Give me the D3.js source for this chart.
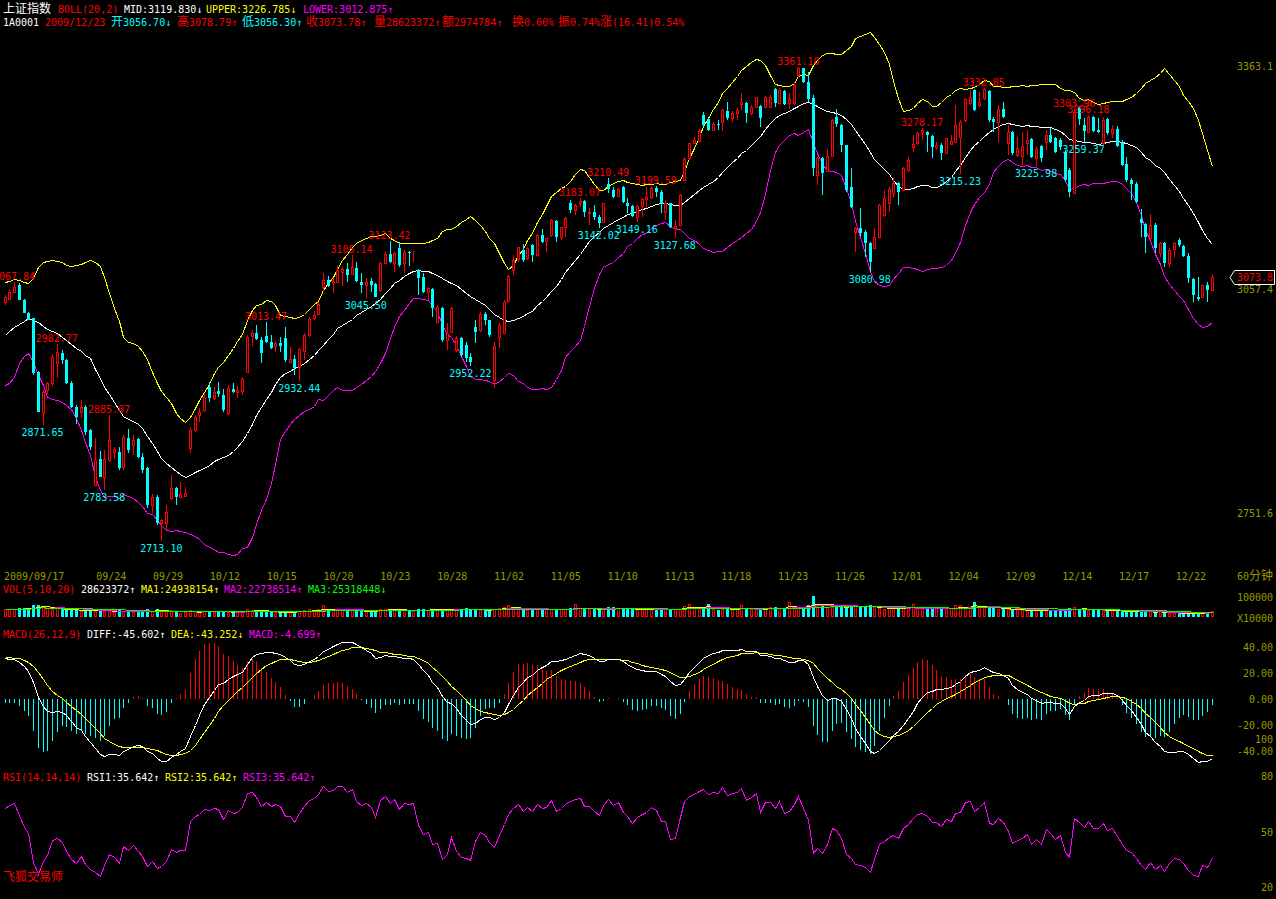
<!DOCTYPE html>
<html><head><meta charset="utf-8">
<script src="https://cdn.jsdelivr.net/npm/d3@7"></script>
<style>html,body{margin:0;padding:0;background:#000;overflow:hidden}svg{display:block}</style>
</head><body><svg id="c" width="1276" height="899"></svg>
<script>
// ---------- DATA ----------
// hourly candles [open, high, low, close]
const ohlc = [
[3040.7,3049.8,3036,3047.5],[3044,3057.6,3043,3054.4],[3054.4,3067.84,3053,3060.3],[3063.5,3066.7,3043,3043.5],
[3043,3044,3025,3025.6],[3025.6,3026,3015,3015.6],[3018,3019,2940,2942.7],[2945,2946,2890,2890.2],
[2888,2920,2871.65,2917.6],[2920,2931,2915,2929],[2929,2969,2925,2965.4],[2956.4,2982.77,2935.9,2971.4],
[2970,2975,2955,2961],[2961,2962,2928,2929],[2929,2932,2895,2897],[2897,2900,2873,2883],
[2890,2906,2882,2897],[2897,2899,2858,2863],[2865,2866,2838,2842],[2790,2854,2788,2824],
[2825,2837,2801,2801],[2801,2838,2783.58,2825],[2824,2885.07,2822,2851.5],[2835.5,2842,2826,2838.7],
[2835.5,2842,2810,2812.7],[2815,2858,2810,2856],[2853.8,2866,2834,2837.8],[2844.6,2858,2831,2851.5],
[2852.8,2854,2827,2828.6],[2828.6,2833,2806,2810.4],[2812.7,2815,2758,2762.6],[2762.6,2778,2752,2774],
[2774,2776,2735,2737.5],[2737.5,2744,2713.1,2742],[2737.5,2762.5,2728,2753.4],[2772,2803.6,2769.4,2785.4],
[2785.4,2787,2762.6,2774],[2773.4,2794.5,2771.7,2777.6],[2775,2787.7,2774,2778.5],[2840,2867.5,2833.3,2865.2],
[2865.2,2885.7,2863,2883.4],[2885.7,2894.8,2876.6,2890.2],[2892.5,2915.3,2890.2,2910.7],[2924.4,2931.3,2904,2908.5],
[2908.5,2924.4,2906.2,2917.6],[2919,2931.3,2910.8,2914.4],[2913,2920.8,2890,2892.5],[2888,2926.7,2885.7,2922.2],
[2921,2929,2915.3,2916.6],[2917.6,2925.4,2908.5,2919.8],[2919,2938.2,2913,2935],[2944,2995,2942.7,2992.8],
[2994.2,3002,2980.6,2998.3],[2997.4,3008.8,2988.3,2989.2],[2988,2992.9,2956.4,2970],[2993.7,3013.47,2983.8,2986],
[2985,2995.2,2976,2977.7],[2980,2987.4,2972.4,2983.8],[2983.8,2992.9,2972.4,2980],[2990.6,3006.6,2958.7,2961],
[2958.6,2979.2,2957.3,2962],[2962,2967.8,2940,2949.6],[2951.8,2976.9,2932.44,2975.5],[2973.6,2997.4,2961,2995],
[2995,3020.2,2992.9,3016.6],[3018,3028,3015.6,3022.5],[3023.9,3040.8,3022.5,3037.6],[3061.3,3079.5,3054.4,3070.4],
[3070,3075.9,3061.3,3062],[3065.8,3072.6,3052,3069],[3068,3089.6,3065.8,3084],[3081.7,3087.7,3062,3085],
[3085,3094,3068,3077],[3078.6,3105.14,3077,3087.7],[3087,3095.4,3068,3069.4],[3068,3079.5,3052,3063.5],
[3063.5,3072.6,3045.5,3068],[3069,3072.6,3054.4,3063.5],[3065,3065.8,3047,3047.5],[3056.7,3095.4,3054.4,3094],
[3094,3109.2,3092.9,3106],[3106,3123.42,3093.2,3095.4],[3094,3109.2,3081.8,3107],[3113.7,3122.8,3088.6,3091],
[3093,3111.5,3080,3109],[3109,3109.5,3090,3108],[3108,3110,3095.5,3109.2],[3084,3085,3049.8,3072.6],
[3075,3080.4,3052.2,3054.4],[3054.4,3061.3,3043,3059],[3057.6,3059,3020,3031.7],[3013.3,3036,3011,3033.8],
[3031.7,3033,2986,2988.3],[2988.3,3011,2974.6,2997.4],[2999.6,3033,2997.4,3031.7],[2974.6,2993.8,2972.4,2990.6],
[2990.6,2992.9,2965.5,2967.7],[2981.5,2986,2958.6,2963.2],[2965,2970,2952.22,2958.7],[3006.5,3015.7,2983.7,2999.7],
[3002,3026,2999.7,3024],[3024,3026,3008.8,3015.7],[3015.7,3016,2993,2995],[2933.6,2986,2922.2,2980],
[2993,3011,2977,3008.8],[2997.4,3043,2996,3039.8],[3042,3077,3041,3076],[3084,3104.6,3077,3097.7],
[3098.7,3116,3095.5,3115],[3111,3119.6,3095.5,3098],[3100,3115,3098,3113.7],[3118,3119.6,3095.5,3104.6],
[3104.6,3133,3102,3132],[3132,3139.7,3120.5,3122.8],[3124,3128,3109,3127.4],[3132,3153.4,3129.6,3152.5],
[3151.5,3152.5,3122.8,3129.6],[3129.6,3143.3,3125,3142.4],[3142.4,3157,3129.6,3154.7],[3175.3,3179.8,3161.6,3166.2],
[3166.2,3174,3159.3,3173],[3175.3,3183.07,3170.7,3178.9],[3178.9,3180,3157,3164],[3161.6,3168.4,3145.6,3164],
[3163.9,3173,3152.5,3156.1],[3157,3159.3,3142.02,3148.8],[3150.2,3176,3149,3175.3],[3201.7,3210.49,3189,3194.4],
[3193.5,3198,3182,3184.4],[3185.3,3196.7,3184.4,3194.4],[3197,3199,3176,3177.5],[3175.2,3182,3161.6,3171.6],
[3171.6,3173,3157,3157.9],[3157,3173,3149.16,3171.6],[3171.6,3182,3157,3180.7],[3180.7,3198,3168.4,3184.4],
[3184.4,3198,3180.7,3195.8],[3195.8,3199.59,3184.4,3191.2],[3191.2,3193.5,3161.6,3174.3],[3163.8,3179.8,3152.4,3175.2],
[3175.2,3176,3141,3143.3],[3141,3152.4,3127.68,3144.2],[3145.6,3188,3144.2,3186.6],[3207.2,3238.2,3206.2,3235.4],
[3236.8,3258.2,3234.5,3257.3],[3258.2,3265.5,3256.4,3261.9],[3261,3276.5,3259.6,3274.6],[3296,3300.6,3280.1,3282.4],
[3290.2,3291.5,3274.2,3275.6],[3275.6,3287,3274.2,3283.8],[3283.8,3289.2,3275.6,3282.4],[3287,3303.8,3274.6,3302.9],
[3302,3314.3,3289.2,3291.5],[3291.5,3302,3287,3298.4],[3299.3,3305.2,3289.2,3302.9],[3311.1,3326.6,3302.9,3314.3],
[3313,3314.3,3285.6,3298.4],[3298.4,3309.8,3296,3307.5],[3307.5,3321.2,3306.6,3320.2],[3308.4,3309.8,3280.1,3291.5],
[3306.6,3322.1,3305.2,3321.2],[3307.5,3323.4,3305.2,3321.2],[3331.2,3332.6,3306.6,3312],[3312,3332.6,3309.8,3330.3],
[3329.4,3330.3,3309.8,3311.1],[3312,3325.7,3303.8,3317.5],[3312,3341.7,3309.8,3337.1],[3350.8,3361.1,3348.5,3359.9],
[3359.9,3360.5,3339.4,3341.7],[3341.7,3355.4,3314.3,3317.5],[3318.9,3323.4,3212.6,3223.1],[3214,3239.1,3200.3,3236.8],
[3236.8,3239.1,3186.6,3217.2],[3219.9,3249.1,3218.6,3240],[3240,3290.1,3239.1,3289.2],[3293.8,3303.8,3280.1,3283.8],
[3282.4,3283.8,3245.9,3255],[3255,3255.5,3191.2,3193.5],[3198,3223.1,3168.4,3170.7],[3136.5,3143.3,3109.1,3141],
[3141,3168.4,3129.6,3134.2],[3136.5,3138.8,3102.3,3120.5],[3120.5,3122.8,3080.98,3095.4],[3113.7,3141,3112.3,3128.7],
[3129.6,3174.4,3128.7,3173],[3159.3,3193.5,3157,3182],[3176.1,3198,3163.8,3194.4],[3188.9,3209.4,3184.4,3202.6],
[3202.6,3204.9,3172.9,3191.2],[3193.5,3225.4,3192.6,3223.1],[3220.8,3238.2,3218.6,3234.5],[3251.8,3268.7,3245.9,3256.4],
[3258.2,3273.3,3255,3271],[3273.3,3278.17,3261.9,3275.6],[3273.3,3274,3245.9,3268.7],[3267.4,3268.7,3236.8,3252.8],
[3251.8,3259.6,3248.2,3255],[3255,3257.3,3234.5,3244.5],[3244.5,3264.5,3242.7,3264.1],[3256.4,3268.7,3255,3260.5],
[3259.6,3309.7,3257.3,3282.4],[3266.4,3289.2,3215.23,3286.9],[3289.2,3318.9,3286.9,3317.5],[3312.9,3330.2,3309.7,3321.1],
[3330.2,3331.2,3301.9,3302.9],[3309.7,3328,3307.4,3314.3],[3318.8,3332.85,3316.6,3331.2],[3329.3,3330.2,3287,3289.2],
[3290.1,3293.8,3273.2,3286.9],[3286.9,3309.7,3259.6,3303.8],[3303.8,3314.3,3291.5,3293.8],[3257.3,3282.4,3241.3,3273.2],
[3273.2,3273.5,3241.3,3243.6],[3241.3,3266.4,3238.2,3250.4],[3240,3273.2,3227.6,3253.6],[3258.2,3275.5,3241.3,3261.8],
[3262.8,3264.1,3236.8,3239],[3236.8,3253.6,3225.98,3249.1],[3253.6,3255,3232.2,3236.8],[3259.6,3275.5,3248.2,3268.7],
[3268.7,3277.8,3257.3,3259.6],[3264.1,3266.4,3243.6,3245.9],[3262,3264,3248,3252.8],[3245.9,3248.2,3204.8,3207.1],
[3220.8,3223,3184.3,3191.2],[3188.9,3303.96,3188,3300],[3306,3308,3282,3290],[3282.4,3291.5,3259.37,3274.6],
[3273.3,3296.18,3271.9,3294],[3294,3295,3273.3,3274.6],[3275.5,3291.5,3271,3273.3],[3257.3,3293,3255,3289.2],
[3290.1,3291.5,3268.7,3271],[3271,3282.4,3264.1,3276.5],[3276.5,3281,3252.8,3253.7],[3259.6,3261.9,3226.3,3227.7],
[3229,3239.1,3204.9,3207.1],[3207.1,3209.4,3179.8,3201.7],[3201.7,3204.9,3175.2,3177.5],[3153.3,3167,3129.6,3147.9],
[3147,3147.9,3107.7,3129.6],[3127.3,3160.6,3125,3145.6],[3145.6,3147.9,3107.7,3113.7],[3107.7,3122.8,3102.3,3120.5],
[3121.4,3122.8,3088.6,3094.1],[3094.1,3113.7,3087.7,3111.4],[3112.3,3122.8,3102.3,3121.4],[3125,3127.3,3115.9,3118.2],
[3116.9,3118.2,3102.3,3103.2],[3103.2,3106.8,3065.8,3072.6],[3071.3,3072.6,3040.7,3049.8],[3046.6,3074.9,3042,3043.9],
[3046.6,3063.5,3046.6,3063.5],[3063.5,3068,3040.7,3056.7],[3056.7,3078.79,3056.3,3073.78]
];
// hourly volume, millions of shares
const volM = [42,40,38,45,44,46, 58,60,55, 45,42,44, 40,38,40,36,28,38,40,30, 36,30,28,25,33,30,
 26,24,28,30,40,28,38,30,30,35,28,22,24,34,30,26,
 30,28,26,28,30,27,25,24,30,42,35,33,30,28,25,26,24,28,25,
 30,32,34,38,36,40,58,40,36,35,38,36,33,30,31,30,34,
 36,42,40,38,36,40,34,30,32,38,42,36,40,38,42,36,40,38,
 40,44,38,36,35,38,40,42,45,50,58,48,40,38,36,38,44,
 40,38,42,36,40,38,44,63,46,42,40,38,42,46,48,50,45,42,44,40,38,42,
 42,40,36,38,40,42,38,40,55,67,50,44,46,67,
 40,36,38,40,44,42,58,40,38,42,46,44,
 48,50,46,44,75,50,46,44,60,103,62,
 56,52,50,58,52,48,58,60,56,54,58,48,
 44,42,44,46,42,44,46,63,48,44,42,46,44,42,40,44,
 62,58,50,48,75,56,50,48,44,42,46,
 38,36,40,34,36,38,34,36,38,35,34,36,40,
 44,48,42,40,36,38,42,35,33,36,30,
 30,29,28,27,28,27,28,27,29,26, 20,21,20,21,20.5, 24,24,23,25,28.623372];
// Bollinger band values read for the first 19 bars (before a full 20-bar window exists)
const bollHeadUp  = [3067.2,3069.4,3071.3,3070.4,3068.1,3066.7,3072.6,3088.6,3095.4,3096.8,3097.7,3096.4,3095.4,3090.9,3089.5,3091.3,3092.2,3095.4,3097.7];
const bollHeadMid = [2995.1,3000.3,3005.6,3010.2,3014.7,3017.9,3015.6,3012.4,3007.4,3003.3,3000.6,2997.4,2991.9,2988.3,2982.4,2977.8,2973.7,2967.8,2963.2];
const bollHeadLow = [2926.7,2929,2938.1,2957.3,2966.4,2970,2958.6,2940.4,2926.7,2910.8,2907.6,2906.2,2903.9,2899.4,2893.4,2881.1,2865.2,2849.2,2831];
// indicator starting states: [EMA12, EMA26, DEA] and RSI [avg up, avg abs]
const macdInit = [3028, 2996, 33];
const rsiInit = [7.5, 12];
// labelled extremes
const markIdx  = [2,8,11,21,22,33,55,62,73,76,81,98,121,125,127,133,137,141,167,182,193,201,206,217,225,227,228];
const markVal  = [3067.84,2871.65,2982.77,2783.58,2885.07,2713.10,3013.47,2932.44,3105.14,3045.50,3123.42,2952.22,3183.07,3142.02,3210.49,3149.16,3199.59,3127.68,3361.10,3080.98,3278.17,3215.23,3332.85,3225.98,3303.96,3259.37,3296.18];
const markHigh = [1,0,1,0,1,0,1,0,1,0,1,0,1,0,1,0,1,0,1,0,1,0,1,0,1,0,1];
// date axis
const dayLabels   = ["2009/09/17","09/24","09/29","10/12","10/15","10/20","10/23","10/28","11/02","11/05","11/10","11/13","11/18","11/23","11/26","12/01","12/04","12/09","12/14","12/17","12/22"];
const dayLabelIdx = [0,5,8,11,14,17,20,23,26,29,32,35,38,41,44,47,50,53,56,59,62];
// axis ticks
const priceTicks = [3363.1, 3057.4, 2751.6];
const macdTicks  = [40, 20, 0, -20, -40];
const rsiTicks   = [100, 80, 50, 20];

// ---------- SETUP ----------
const RED="#ff0000", CYAN="#00ffff", YEL="#ffff00", MAG="#ff00ff", WHITE="#ffffff", GRN="#00ff00", OLIVE="#999900";
const MONO="'DejaVu Sans Mono','Liberation Mono',monospace", CJK="'Noto Sans CJK SC','Noto Sans CJK JP',sans-serif";
const svg=d3.select('#c');
svg.append('rect').attr('width',1276).attr('height',899).attr('fill','#000');
const N=ohlc.length;
const x=d3.scaleLinear().domain([0,N-1]).range([4.5,1212]);
const xSlot=d3.scaleLinear().domain([0,255]).range([4.5,1212]);
const px=i=>Math.round(x(i));
const yP=d3.scaleLinear().domain([2751.6,3363.1]).range([513,66]);
const yV=d3.scaleLinear().domain([0,100]).range([617,597]);
const yM=d3.scaleLinear().domain([-40,40]).range([751,647]);
const yR=d3.scaleLinear().domain([20,80]).range([887,776]);

function rich(g,xx,yy,str,color,anchor){
  const t=g.append('text').attr('x',xx).attr('y',yy).attr('fill',color)
    .attr('font-family',MONO).attr('font-size',10).attr('text-anchor',anchor||'start');
  const runs=str.match(/[\u3400-\u9fff]+|[^\u3400-\u9fff]+/g);
  runs.forEach(r=>{const c=/[\u3400-\u9fff]/.test(r);
    t.append('tspan').text(r).attr('font-family',c?CJK:MONO).attr('font-size',c?12:10);});
  return t;
}

// ---------- INDICATORS ----------
const C=ohlc.map(d=>d[3]);
const bMid=[],bUp=[],bLow=[];
C.forEach((c,i)=>{
  if(i<19){bMid.push(bollHeadMid[i]);bUp.push(bollHeadUp[i]);bLow.push(bollHeadLow[i]);}
  else{const w=C.slice(i-19,i+1),m=d3.mean(w),s=d3.deviation(w);bMid.push(m);bUp.push(m+2*s);bLow.push(m-2*s);}
});
let e12=macdInit[0],e26=macdInit[1],dea=macdInit[2];
const DIF=[],DEA=[],HIST=[];
C.forEach(c=>{e12=(2*c+11*e12)/13;e26=(2*c+25*e26)/27;const df=e12-e26;dea=(2*df+8*dea)/10;
  DIF.push(df);DEA.push(dea);HIST.push(2*(df-dea));});
let au=rsiInit[0],aa=rsiInit[1];const RSI=[];
C.forEach((c,i)=>{if(i>0){const ch=c-C[i-1];au=(Math.max(ch,0)+13*au)/14;aa=(Math.abs(ch)+13*aa)/14;}RSI.push(aa?au/aa*100:50);});
const maV=n=>volM.map((v,i)=>d3.mean(volM.slice(Math.max(0,i-n+1),i+1)));
const MA5=maV(5),MA10=maV(10),MA20=maV(20);

// ---------- MAIN PANEL ----------
const line=(ys,arr)=>d3.line().x((d,i)=>px(i)+0.5).y(d=>Math.round(ys(d))+0.5)(arr);
const gB=svg.append('g').attr('fill','none').attr('stroke-width',1).attr('shape-rendering','crispEdges');
gB.append('path').attr('d',line(yP,bUp)).attr('stroke',YEL);
gB.append('path').attr('d',line(yP,bLow)).attr('stroke',MAG);
gB.append('path').attr('d',line(yP,bMid)).attr('stroke',WHITE);

const gC=svg.append('g').attr('shape-rendering','crispEdges');
ohlc.forEach((d,i)=>{
  const [o,h,l,c]=d,cx=px(i),up=c>=o,col=up?RED:CYAN;
  const yt=Math.round(yP(Math.max(o,c))),yb=Math.round(yP(Math.min(o,c)));
  const yh=Math.round(yP(h)),yl=Math.round(yP(l));
  if(up){
    if(yh<yt)gC.append('line').attr('x1',cx+0.5).attr('x2',cx+0.5).attr('y1',yh).attr('y2',yt).attr('stroke',col);
    if(yl>yb)gC.append('line').attr('x1',cx+0.5).attr('x2',cx+0.5).attr('y1',yb).attr('y2',yl).attr('stroke',col);
    gC.append('rect').attr('x',cx-0.5).attr('y',yt+0.5).attr('width',2).attr('height',Math.max(yb-yt,0))
      .attr('fill','#000').attr('stroke',col);
  }else{
    gC.append('line').attr('x1',cx+0.5).attr('x2',cx+0.5).attr('y1',yh).attr('y2',Math.max(yl,yh+1)).attr('stroke',col);
    gC.append('rect').attr('x',cx-1).attr('y',yt).attr('width',3).attr('height',Math.max(yb-yt,1)).attr('fill',col);
  }
});
// extreme labels
markIdx.forEach((idx,k)=>{
  const hi=markHigh[k]===1;
  svg.append('text').attr('x',x(idx)).attr('y',hi?yP(markVal[k])-2:yP(markVal[k])+11)
    .attr('text-anchor','middle').attr('font-family',MONO).attr('font-size',10)
    .attr('fill',hi?RED:CYAN).text(markVal[k].toFixed(2));
});
// price axis labels
priceTicks.forEach(p=>rich(svg,1273,yP(p)+4,p.toFixed(1),OLIVE,'end'));
// last price marker
const lastC=C[N-1],yl=Math.round(yP(lastC));
svg.append('path').attr('d',`M1230,${yl+0.5}L1234.5,${yl-6.5}H1274.5V${yl+7.5}H1234.5Z`).attr('fill','#000').attr('stroke',WHITE);
rich(svg,1237,yl+4,lastC.toFixed(1),RED);

// ---------- HEADERS ----------
[[3,"上证指数",WHITE],[58,"BOLL(20,2)",RED],[124,"MID:3119.830↓",WHITE],[206,"UPPER:3226.785↓",YEL],[303,"LOWER:3012.875↑",MAG]]
  .forEach(s=>rich(svg,s[0],13,s[1],s[2]));
[[3,"1A0001",WHITE],[45,"2009/12/23",RED],[111,"开3056.70↓",CYAN],[177,"高3078.79↑",RED],[242,"低3056.30↑",CYAN],
 [306,"收3073.78↑",RED],[374,"量28623372↑",RED],[442,"额2974784↑",RED],[512,"换0.00%",RED],[558,"振0.74%",RED],[600,"涨(16.41)0.54%",RED]]
  .forEach(s=>rich(svg,s[0],26,s[1],s[2]));

// ---------- DATE AXIS ----------
dayLabels.forEach((t,k)=>rich(svg,Math.max(4,xSlot(dayLabelIdx[k]*4)-3),580,t,OLIVE));
rich(svg,1237,580,"60分钟",OLIVE);

// ---------- VOLUME ----------
[[3,"VOL(5,10,20)",RED],[81,"28623372↑",WHITE],[141,"MA1:24938154↑",YEL],[224,"MA2:22738514↑",MAG],[308,"MA3:25318448↓",GRN]]
  .forEach(s=>rich(svg,s[0],593,s[1],s[2]));
const gV=svg.append('g').attr('shape-rendering','crispEdges');
volM.forEach((v,i)=>{
  const cx=px(i),up=ohlc[i][3]>=ohlc[i][0],yt=Math.round(yV(v)),y0=yV(0);
  if(up) gV.append('rect').attr('x',cx-0.5).attr('y',yt+0.5).attr('width',2).attr('height',Math.max(y0-yt-1,0)).attr('fill','#000').attr('stroke',RED);
  else gV.append('rect').attr('x',cx-1).attr('y',yt).attr('width',3).attr('height',y0-yt).attr('fill',CYAN);
});
const gVM=svg.append('g').attr('fill','none').attr('shape-rendering','crispEdges');
gVM.append('path').attr('d',line(yV,MA5)).attr('stroke',YEL);
gVM.append('path').attr('d',line(yV,MA10)).attr('stroke',MAG);
gVM.append('path').attr('d',line(yV,MA20)).attr('stroke',GRN);
rich(svg,1273,yV(100)+4,"100000",OLIVE,'end');
rich(svg,1273,yV(0)+5,"X10000",OLIVE,'end');

// ---------- MACD ----------
[[3,"MACD(26,12,9)",RED],[87,"DIFF:-45.602↑",WHITE],[171,"DEA:-43.252↓",YEL],[249,"MACD:-4.699↑",MAG]]
  .forEach(s=>rich(svg,s[0],638,s[1],s[2]));
const gH=svg.append('g').attr('shape-rendering','crispEdges');
HIST.forEach((h,i)=>{const cx=px(i)+0.5;
  gH.append('line').attr('x1',cx).attr('x2',cx).attr('y1',Math.round(yM(0))).attr('y2',Math.round(yM(h))).attr('stroke',h>=0?RED:CYAN);});
const gM=svg.append('g').attr('fill','none').attr('shape-rendering','crispEdges');
gM.append('path').attr('d',line(yM,DEA)).attr('stroke',YEL);
gM.append('path').attr('d',line(yM,DIF)).attr('stroke',WHITE);
macdTicks.forEach(t=>rich(svg,1273,yM(t)+4,t.toFixed(2),OLIVE,'end'));

// ---------- RSI ----------
[[3,"RSI(14,14,14)",RED],[87,"RSI1:35.642↑",WHITE],[165,"RSI2:35.642↑",YEL],[243,"RSI3:35.642↑",MAG]]
  .forEach(s=>rich(svg,s[0],781,s[1],s[2]));
const gR=svg.append('g').attr('fill','none').attr('shape-rendering','crispEdges');
gR.append('path').attr('d',line(yR,RSI)).attr('stroke',WHITE);
gR.append('path').attr('d',line(yR,RSI)).attr('stroke',YEL);
gR.append('path').attr('d',line(yR,RSI)).attr('stroke',MAG);
rsiTicks.forEach(t=>rich(svg,1273,yR(t)+4,String(t),OLIVE,'end'));
rich(svg,3,881,"飞狐交易师",RED);
</script>
</body></html>
